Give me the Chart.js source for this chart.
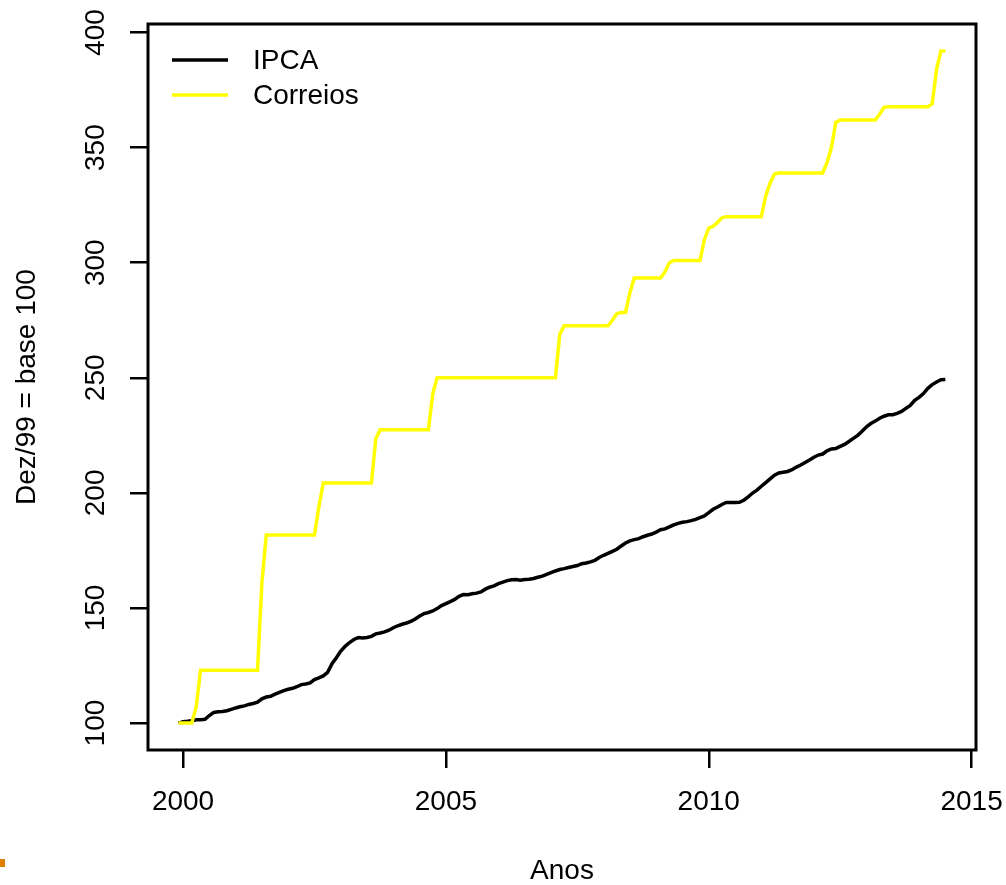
<!DOCTYPE html>
<html>
<head>
<meta charset="utf-8">
<script src="https://cdn.jsdelivr.net/npm/chart.js@4/dist/chart.umd.min.js"></script>
<style>
  html, body { margin: 0; padding: 0; background: #fff; }
  #wrap { position: relative; width: 1006px; height: 885px; }
  #mark { position: absolute; left: 0; top: 859px; width: 5px; height: 8px; background: #e08000; }
</style>
</head>
<body>
<div id="wrap">
  <canvas id="chart" width="1006" height="885"></canvas>
  <div id="mark"></div>
</div>
<script>
// monthly index, Dec/1999 = 100, Dec/1999 .. Jul/2014
var ipca = [
  100.00,
  100.62, 100.75, 100.97, 101.39, 101.40, 101.64, 103.28, 104.63, 104.87, 105.02, 105.35, 105.97,
  106.57, 107.06, 107.47, 108.09, 108.53, 109.10, 110.55, 111.32, 111.63, 112.56, 113.36, 114.10,
  114.69, 115.10, 115.79, 116.72, 116.97, 117.46, 118.86, 119.63, 120.49, 122.07, 125.76, 128.40,
  131.29, 133.35, 134.99, 136.30, 137.13, 136.92, 137.20, 137.66, 138.74, 139.14, 139.61, 140.34,
  141.41, 142.27, 142.94, 143.47, 144.20, 145.22, 146.54, 147.55, 148.04, 148.69, 149.72, 151.01,
  151.89, 152.78, 153.71, 155.05, 155.81, 155.78, 156.17, 156.44, 156.99, 158.17, 159.04, 159.61,
  160.55, 161.21, 161.90, 162.24, 162.40, 162.06, 162.37, 162.45, 162.79, 163.33, 163.84, 164.63,
  165.35, 166.08, 166.69, 167.11, 167.58, 168.05, 168.45, 169.24, 169.54, 170.05, 170.70, 171.96,
  172.89, 173.74, 174.57, 175.53, 176.92, 178.23, 179.17, 179.67, 180.14, 180.95, 181.60, 182.11,
  182.98, 183.99, 184.36, 185.24, 186.11, 186.78, 187.23, 187.51, 187.96, 188.49, 189.26, 189.96,
  191.38, 192.87, 193.87, 194.98, 195.82, 195.82, 195.84, 195.92, 196.80, 198.28, 199.93, 201.19,
  202.86, 204.48, 206.10, 207.69, 208.66, 208.97, 209.31, 210.08, 211.20, 212.10, 213.21, 214.27,
  215.47, 216.44, 216.89, 218.28, 219.07, 219.24, 220.18, 221.08, 222.34, 223.66, 225.00, 226.78,
  228.73, 230.10, 231.18, 232.45, 233.31, 233.92, 233.99, 234.55, 235.37, 236.71, 237.99, 240.18,
  241.50, 243.17, 245.41, 247.05, 248.19, 249.18, 249.21
];
var correios = [
  100,
  100, 100, 100, 107, 123, 123, 123, 123, 123, 123, 123, 123,
  123, 123, 123, 123, 123, 123, 161, 181.7, 181.7, 181.7, 181.7, 181.7,
  181.7, 181.7, 181.7, 181.7, 181.7, 181.7, 181.7, 194, 204.3, 204.3, 204.3, 204.3,
  204.3, 204.3, 204.3, 204.3, 204.3, 204.3, 204.3, 204.3, 223.5, 227.4, 227.4, 227.4,
  227.4, 227.4, 227.4, 227.4, 227.4, 227.4, 227.4, 227.4, 227.4, 243, 250, 250,
  250, 250, 250, 250, 250, 250, 250, 250, 250, 250, 250, 250,
  250, 250, 250, 250, 250, 250, 250, 250, 250, 250, 250, 250,
  250, 250, 269, 272.6, 272.6, 272.6, 272.6, 272.6, 272.6, 272.6, 272.6, 272.6,
  272.6, 272.6, 275, 277.8, 278.4, 278.4, 287, 293.3, 293.3, 293.3, 293.3, 293.3,
  293.3, 293.3, 296, 300, 301, 301, 301, 301, 301, 301, 301, 310,
  315, 315.8, 317.5, 319.5, 320, 320, 320, 320, 320, 320, 320, 320,
  320, 329, 334.5, 338.5, 339, 339, 339, 339, 339, 339, 339, 339,
  339, 339, 339, 343.5, 350, 361, 362, 362, 362, 362, 362, 362,
  362, 362, 362, 364.5, 367.5, 367.7, 367.7, 367.7, 367.7, 367.7, 367.7, 367.7,
  367.7, 367.7, 367.7, 369, 384, 392, 392
];
var seriesNames = ["IPCA", "Correios"];
var seriesColors = ["#000000", "#ffff00"];
var xTicks = [2000, 2005, 2010, 2015];
var yTicks = [100, 150, 200, 250, 300, 350, 400];
var xTitle = "Anos";
var yTitle = "Dez/99 = base 100";

// months as decimal years, first one is Dec/1999
var months = [];
for (var i = 0; i < ipca.length; i++) {
  months.push(1999 + (11 + i) / 12);
}

var FONT = "'Liberation Sans', Arial, Helvetica, sans-serif";

function toPoints(values) {
  return values.map(function (v, i) { return { x: months[i], y: v }; });
}

// frame round the plot region, like R's box()
var boxPlugin = {
  id: "box",
  afterDraw: function (chart) {
    var a = chart.chartArea;
    var ctx = chart.ctx;
    ctx.save();
    ctx.strokeStyle = "#000";
    ctx.lineWidth = 3;
    ctx.strokeRect(a.left, a.top, a.right - a.left, a.bottom - a.top);
    ctx.restore();
  }
};

// legend at top left, inside the plot region, no frame
var legendPlugin = {
  id: "topleftLegend",
  afterDraw: function (chart) {
    var a = chart.chartArea;
    var ctx = chart.ctx;
    ctx.save();
    ctx.font = "28px " + FONT;
    ctx.textBaseline = "middle";
    ctx.textAlign = "left";
    chart.data.datasets.forEach(function (ds, i) {
      var y = a.top + 36 + i * 35;
      ctx.strokeStyle = ds.borderColor;
      ctx.lineWidth = 3.5;
      ctx.beginPath();
      ctx.moveTo(a.left + 24, y);
      ctx.lineTo(a.left + 80, y);
      ctx.stroke();
      ctx.fillStyle = "#000";
      ctx.fillText(ds.label, a.left + 105, y + 1);
    });
    ctx.restore();
  }
};

var chart = new Chart(document.getElementById("chart"), {
  type: "line",
  data: {
    datasets: [
      {
        label: seriesNames[0],
        data: toPoints(ipca),
        borderColor: seriesColors[0],
        borderWidth: 3.5,
        pointRadius: 0,
        tension: 0,
        fill: false,
        order: 1
      },
      {
        label: seriesNames[1],
        data: toPoints(correios),
        borderColor: seriesColors[1],
        borderWidth: 3.5,
        pointRadius: 0,
        tension: 0,
        fill: false,
        order: 0
      }
    ]
  },
  options: {
    responsive: false,
    animation: false,
    devicePixelRatio: 1,
    layout: { padding: { left: 0, top: 24, right: 30, bottom: 0 } },
    plugins: {
      legend: { display: false },
      tooltip: { enabled: false }
    },
    scales: {
      x: {
        type: "linear",
        min: 1999 + 4 / 12,
        max: 2015 + 1 / 12,
        afterBuildTicks: function (s) {
          s.ticks = xTicks.map(function (v) { return { value: v }; });
        },
        afterFit: function (s) {
          s.height = 135;
          s.paddingLeft = 0;
          s.paddingRight = 0;
        },
        grid: { drawOnChartArea: false, drawTicks: true, tickLength: 18, color: "#000", lineWidth: 2.5 },
        border: { display: false },
        ticks: {
          autoSkip: false,
          maxRotation: 0,
          padding: 20,
          color: "#000",
          font: { family: FONT, size: 28, lineHeight: 1 },
          callback: function (v) { return String(v); }
        },
        title: {
          display: true,
          text: xTitle,
          color: "#000",
          font: { family: FONT, size: 28, lineHeight: 1 },
          padding: { top: 0, bottom: 0 }
        }
      },
      y: {
        type: "linear",
        min: 88.3,
        max: 403.7,
        afterBuildTicks: function (s) {
          s.ticks = yTicks.map(function (v) { return { value: v }; });
        },
        afterFit: function (s) {
          s.width = 148;
          s.paddingTop = 0;
          s.paddingBottom = 0;
        },
        grid: { drawOnChartArea: false, drawTicks: true, tickLength: 18, color: "#000", lineWidth: 2.5 },
        border: { display: false },
        ticks: {
          autoSkip: false,
          minRotation: 90,
          maxRotation: 90,
          crossAlign: "center",
          padding: 10,
          color: "#000",
          font: { family: FONT, size: 28, lineHeight: 1 },
          callback: function (v) { return String(v); }
        },
        title: {
          display: true,
          text: yTitle,
          color: "#000",
          font: { family: FONT, size: 28, lineHeight: 1 },
          padding: { top: 13, bottom: 0 }
        }
      }
    }
  },
  plugins: [boxPlugin, legendPlugin]
});
</script>
</body>
</html>
